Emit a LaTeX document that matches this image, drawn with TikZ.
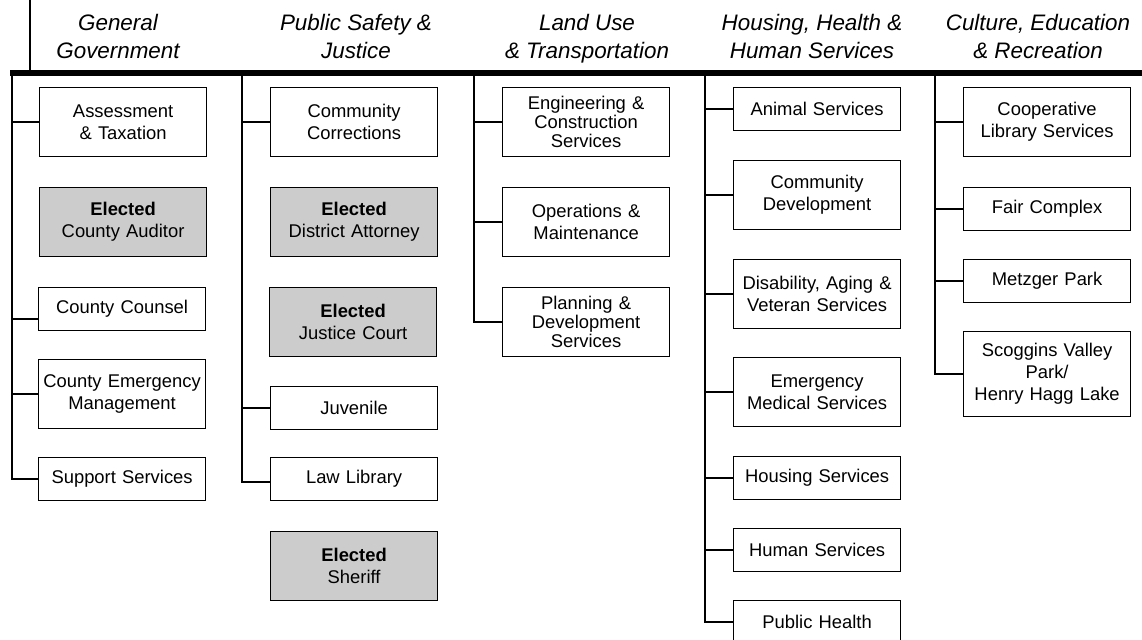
\documentclass[tikz,border=0pt]{standalone}
\usepackage{fontspec}
\setmainfont{Liberation Sans}
\begin{document}
\begin{tikzpicture}[x=0.5pt, y=-0.5pt,
    box/.style={draw, line width=0.6pt, anchor=north west, minimum width=83.5pt, text width=82pt,
        align=center, inner sep=0pt, font=\fontsize{9.2}{11}\selectfont},
    tallbox/.style={box, minimum height=34.5pt},
    shortbox/.style={box, minimum height=21.5pt},
    threebox/.style={tallbox, font=\fontsize{9.2}{9.5}\selectfont},
    electbox/.style={tallbox, fill=black!20},
    head/.style={align=center, text depth=3pt, font=\fontsize{11.2}{14}\selectfont\itshape},
    link/.style={line width=1pt}]
    \useasboundingbox (0,0) rectangle (1142,640);
    \node[head] (hgen) at (118,39) {General\\Government};
    \node[head] (hsafe) at (356,39) {Public Safety \&\\Justice};
    \node[head] (hland) at (587,39) {Land Use\\\& Transportation};
    \node[head] (hhouse) at (812,39) {Housing, Health \&\\Human Services};
    \node[head] (hcult) at (1038,39) {Culture, Education\\\& Recreation};
    \coordinate (root) at (30,0);
    \coordinate (barL) at (10,73);
    \coordinate (barR) at (1142,73);
    \draw[line width=3pt] (barL) -- (barR);
    \draw[link] (root) -- (root |- barL);
    \coordinate (t1) at (12,73);
    \coordinate (t2) at (242,73);
    \coordinate (t3) at (474,73);
    \coordinate (t4) at (705,73);
    \coordinate (t5) at (935,73);
    % General Government
    \node[tallbox] (assess) at (39,87) {Assessment\\\& Taxation};
    \node[electbox] (auditor) at (39,187) {\textbf{Elected}\\County Auditor};
    \node[shortbox] (counsel) at (38,287) {County Counsel};
    \node[tallbox] (emerg) at (38,359) {County Emergency\\Management};
    \node[shortbox] (support) at (38,457) {Support Services};
    % Public Safety & Justice
    \node[tallbox] (correct) at (270,87) {Community\\Corrections};
    \node[electbox] (attorney) at (270,187) {\textbf{Elected}\\District Attorney};
    \node[electbox] (court) at (269,287) {\textbf{Elected}\\Justice Court};
    \node[shortbox] (juvenile) at (270,386) {Juvenile};
    \node[shortbox] (lawlib) at (270,457) {Law Library};
    \node[electbox] (sheriff) at (270,531) {\textbf{Elected}\\Sheriff};
    % Land Use & Transportation
    \node[threebox] (engin) at (502,87) {Engineering \&\\Construction\\Services};
    \node[tallbox] (operat) at (502,187) {Operations \&\\Maintenance};
    \node[threebox] (plan) at (502,287) {Planning \&\\Development\\Services};
    % Housing, Health & Human Services
    \node[shortbox] (animal) at (733,87) {Animal Services};
    \node[tallbox] (commdev) at (733,160) {Community\\Development};
    \node[tallbox] (disab) at (733,259) {Disability, Aging \&\\Veteran Services};
    \node[tallbox] (ems) at (733,357) {Emergency\\Medical Services};
    \node[shortbox] (housing) at (733,456) {Housing Services};
    \node[shortbox] (human) at (733,528) {Human Services};
    \node[shortbox] (pubhealth) at (733,600) {Public Health};
    % Culture, Education & Recreation
    \node[tallbox] (library) at (963,87) {Cooperative\\Library Services};
    \node[shortbox] (fair) at (963,187) {Fair Complex};
    \node[shortbox] (metzger) at (963,259) {Metzger Park};
    \node[box, minimum height=42.5pt] (scoggins) at (963,331) {Scoggins Valley\\Park/\\Henry Hagg Lake};
    % trunks and branches
    \draw[link] (t1) |- (support.west);
    \foreach \b in {assess,emerg}
        \draw[link] (\b.west) -- (\b.west -| t1);
    \draw[link] ([yshift=-5pt]counsel.west) -- ([yshift=-5pt]counsel.west -| t1);
    \draw[link] (t2) |- ([yshift=-1.5pt]lawlib.west);
    \foreach \b in {correct,juvenile}
        \draw[link] (\b.west) -- (\b.west -| t2);
    \draw[link] (t3) |- (plan.west);
    \foreach \b in {engin,operat}
        \draw[link] (\b.west) -- (\b.west -| t3);
    \draw[link] (t4) |- (pubhealth.west);
    \foreach \b in {animal,commdev,disab,ems,housing,human}
        \draw[link] (\b.west) -- (\b.west -| t4);
    \draw[link] (t5) |- (scoggins.west);
    \foreach \b in {library,fair,metzger}
        \draw[link] (\b.west) -- (\b.west -| t5);
\end{tikzpicture}
\end{document}
